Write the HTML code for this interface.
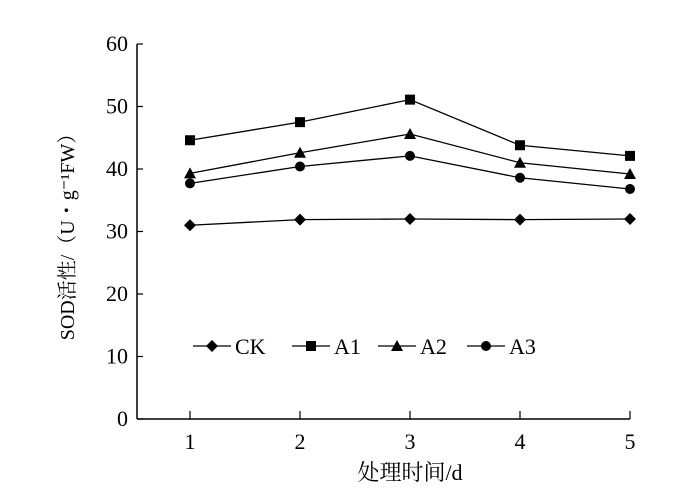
<!DOCTYPE html>
<html><head><meta charset="utf-8"><style>
body{margin:0;background:#fff}
svg text{font-family:"Liberation Serif","Noto Serif CJK SC",serif;fill:#000}
</style></head><body>
<svg id="c" width="700" height="491" viewBox="0 0 700 491"></svg>
<script>
const categories=[1,2,3,4,5];
const yTicks=[0,10,20,30,40,50,60];
const ck=[31.0,31.9,32.0,31.9,32.0];
const a1=[44.6,47.5,51.1,43.8,42.1];
const a2=[39.3,42.6,45.6,41.0,39.2];
const a3=[37.7,40.4,42.1,38.6,36.8];
const seriesNames=["CK","A1","A2","A3"];
const NS="http://www.w3.org/2000/svg";
const svg=document.getElementById('c');
const X0=137,Y0=419,PY=6.25;
const xs=i=>190+i*110;
const ys=v=>Y0-v*PY;
function mk(t,a,p){const e=document.createElementNS(NS,t);for(const k in a)e.setAttribute(k,a[k]);(p||svg).appendChild(e);return e;}
const ax=mk('g',{});


mk('line',{x1:X0,y1:ys(60),x2:X0,y2:Y0,stroke:'#000','stroke-width':1.5},ax);
mk('line',{x1:X0,y1:Y0,x2:xs(4),y2:Y0,stroke:'#000','stroke-width':1.5},ax);
yTicks.forEach(v=>{
 mk('line',{x1:X0,y1:ys(v),x2:X0+6,y2:ys(v),stroke:'#000','stroke-width':1.2},ax);
 const t=mk('text',{x:X0-9,y:ys(v)+7,'text-anchor':'end','font-size':22},ax);t.textContent=v;
 
 
});
categories.forEach((c,i)=>{
 mk('line',{x1:xs(i),y1:Y0,x2:xs(i),y2:Y0-8,stroke:'#000','stroke-width':1.2},ax);
 const t=mk('text',{x:xs(i),y:Y0+30,'text-anchor':'middle','font-size':22},ax);t.textContent=c;
 
 
});
const xt=mk('text',{x:410,y:480,'text-anchor':'middle','font-size':22});xt.textContent='处理时间/d';


const yt=mk('text',{x:0,y:0,'text-anchor':'middle','font-size':20,transform:'translate(74,232) rotate(-90)'});yt.textContent='SOD活性/（U・g⁻¹FW）';


function marker(type,x,y,p){
 if(type==='d')mk('polygon',{points:`${x},${y-6} ${x+6},${y} ${x},${y+6} ${x-6},${y}`,fill:'#000'},p);
 else if(type==='s')mk('rect',{x:x-5,y:y-5,width:10,height:10,fill:'#000'},p);
 else if(type==='t')mk('polygon',{points:`${x},${y-6} ${x+6},${y+5} ${x-6},${y+5}`,fill:'#000'},p);
 else mk('circle',{cx:x,cy:y,r:5,fill:'#000'},p);
}
const all=[ck,a1,a2,a3],types=['d','s','t','c'];
all.forEach((s,k)=>{
 const g=mk('g',{});
 
 
 mk('polyline',{points:s.map((v,i)=>xs(i)+','+ys(v)).join(' '),fill:'none',stroke:'#000','stroke-width':1.3},g);
 s.forEach((v,i)=>marker(types[k],xs(i),ys(v),g));
});
const lx=[193,292,378,467];
seriesNames.forEach((n,k)=>{
 const g=mk('g',{});
 
 
 mk('line',{x1:lx[k],y1:346,x2:lx[k]+38,y2:346,stroke:'#000','stroke-width':1.3},g);
 marker(types[k],lx[k]+19,346,g);
 const t=mk('text',{x:lx[k]+42,y:354,'font-size':22},g);t.textContent=n;
});
</script>
</body></html>
